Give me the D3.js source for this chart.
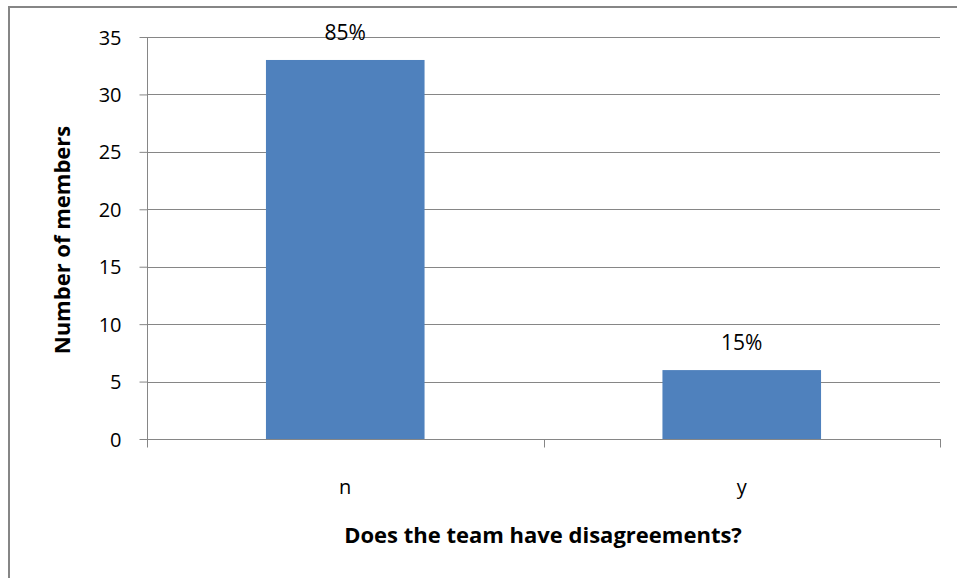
<!DOCTYPE html>
<html>
<head>
<meta charset="utf-8">
<script src="https://cdn.jsdelivr.net/npm/d3@7"></script>
<style>
  body { margin: 0; background: #fff; }
  text { font-family: "Open Sans", "Liberation Sans", sans-serif; }
</style>
</head>
<body>
<svg id="chart" width="957" height="578"></svg>
<script>
// data
var categories = ["n", "y"];
var counts = [33, 6];
var pctLabels = ["85%", "15%"];
var yTicks = [0, 5, 10, 15, 20, 25, 30, 35];

var svg = d3.select("#chart");

// outer chart border (cropped at right/bottom)
svg.append("rect")
    .attr("x", 9).attr("y", 7)
    .attr("width", 1000).attr("height", 700)
    .attr("fill", "#fff")
    .attr("stroke", "#868686")
    .attr("stroke-width", 2);

var plotL = 147, plotR = 940, plotT = 37, plotB = 439;

var x = d3.scaleBand().domain(categories).range([plotL, plotR]).paddingInner(0.6).paddingOuter(0.3);
var y = d3.scaleLinear().domain([0, 35]).range([plotB, plotT]);

// gridlines
svg.append("g").selectAll("line")
    .data(yTicks.filter(function (d) { return d > 0; }))
    .enter().append("line")
    .attr("x1", plotL).attr("x2", plotR)
    .attr("y1", function (d) { return Math.round(y(d)) + 0.5; })
    .attr("y2", function (d) { return Math.round(y(d)) + 0.5; })
    .attr("stroke", "#868686").attr("stroke-width", 1);

// bars
svg.append("g").selectAll("rect")
    .data(counts)
    .enter().append("rect")
    .attr("x", function (d, i) { return x(categories[i]); })
    .attr("y", function (d) { return y(d); })
    .attr("width", x.bandwidth())
    .attr("height", function (d) { return y(0) - y(d); })
    .attr("fill", "#4f81bd");

// value labels
svg.append("g").selectAll("text")
    .data(counts)
    .enter().append("text")
    .attr("x", function (d, i) { return x(categories[i]) + x.bandwidth() / 2; })
    .attr("y", function (d) { return y(d) - 20; })
    .attr("text-anchor", "middle")
    .attr("font-size", 21)
    .attr("fill", "#000")
    .text(function (d, i) { return pctLabels[i]; });

// y axis
var yAxis = d3.axisLeft(y).tickValues(yTicks).tickSize(8).tickPadding(18);
var gy = svg.append("g").attr("transform", "translate(" + (plotL + 0.5) + ",0)").call(yAxis);
gy.select(".domain").attr("stroke", "#868686").attr("d", "M0," + plotT + "V" + (plotB + 8));
gy.selectAll(".tick line").attr("stroke", "#868686");
gy.selectAll(".tick text").attr("font-size", 20).attr("fill", "#000").attr("dy", "0.35em")
    .style("font-family", "'Open Sans', 'Liberation Sans', sans-serif");

// x axis
var gx = svg.append("g").attr("transform", "translate(0," + (plotB + 0.5) + ")");
gx.append("line").attr("x1", plotL).attr("x2", plotR + 1).attr("stroke", "#868686");
var xTickPos = [plotL, (plotL + plotR) / 2, plotR];
gx.selectAll("line.tk").data(xTickPos).enter().append("line")
    .attr("class", "tk")
    .attr("x1", function (d) { return Math.round(d) + 0.5; })
    .attr("x2", function (d) { return Math.round(d) + 0.5; })
    .attr("y1", 0).attr("y2", 8)
    .attr("stroke", "#868686");
gx.selectAll("text").data(categories).enter().append("text")
    .attr("x", function (d) { return x(d) + x.bandwidth() / 2; })
    .attr("y", 54)
    .attr("text-anchor", "middle")
    .attr("font-size", 20)
    .text(function (d) { return d; });

// axis titles
svg.append("text")
    .attr("transform", "translate(70,240) rotate(-90)")
    .attr("text-anchor", "middle")
    .attr("font-size", 22).attr("font-weight", "bold")
    .text("Number of members");

svg.append("text")
    .attr("x", 543).attr("y", 543)
    .attr("text-anchor", "middle")
    .attr("font-size", 22).attr("font-weight", "bold")
    .text("Does the team have disagreements?");
</script>
</body>
</html>
